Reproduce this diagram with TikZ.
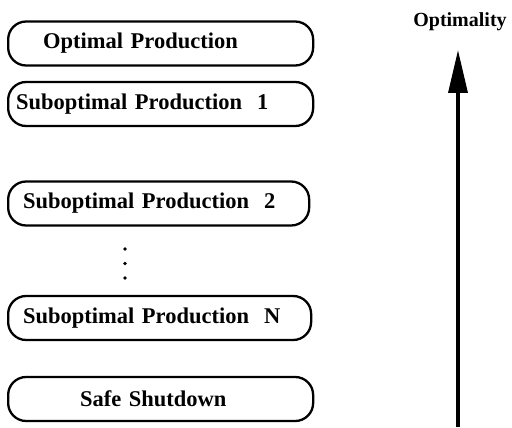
\documentclass[tikz,border=0pt]{standalone}
\usepackage{fontspec}
\setmainfont{Liberation Serif}
\usetikzlibrary{arrows.meta}
\begin{document}
\begin{tikzpicture}[x=1pt,y=-1pt,
  modebox/.style={draw, line width=2.3pt, rounded corners=18pt,
    minimum height=44pt, inner xsep=0pt, inner ysep=0pt,
    text width=#1, align=left, anchor=west,
    font=\fontsize{22.5}{26}\selectfont\bfseries},
  modebox/.default=305pt,
  dotmark/.style={fill=black, circle, inner sep=0pt, minimum size=3.6pt},
  axis/.style={line width=3.4pt, -{Triangle[length=43pt,width=19pt]}}]
\useasboundingbox (0,0) rectangle (512,428);

% operating modes, ordered from best to worst
\node[modebox] (opt)  at (7,43.5)  {\hspace*{35pt}Optimal Production};
\node[modebox] (sub1) at (7,104) {\hspace*{8pt}Suboptimal Production\ \ 1};
\node[modebox=301pt] (sub2) at (7,203.5) {\hspace*{15pt}Suboptimal Production\ \ 2};
\node[dotmark] (d1) at (125,249) {};
\node[dotmark] (d2) at (125,263.5) {};
\node[dotmark] (d3) at (125,278) {};
\node[modebox=303pt] (subN) at (7,318) {\hspace*{15pt}Suboptimal Production\ \ N};
\node[modebox] (safe) at (7,399) {\hspace*{72pt}Safe Shutdown};

% optimality axis
\node[font=\fontsize{20}{24}\selectfont\bfseries, anchor=base] (lbl) at (460,27) {Optimality};
\coordinate (axbot) at (458,427);
\coordinate (axtop) at (458,50);
\draw[axis] (axbot) -- (axtop);
\end{tikzpicture}
\end{document}
